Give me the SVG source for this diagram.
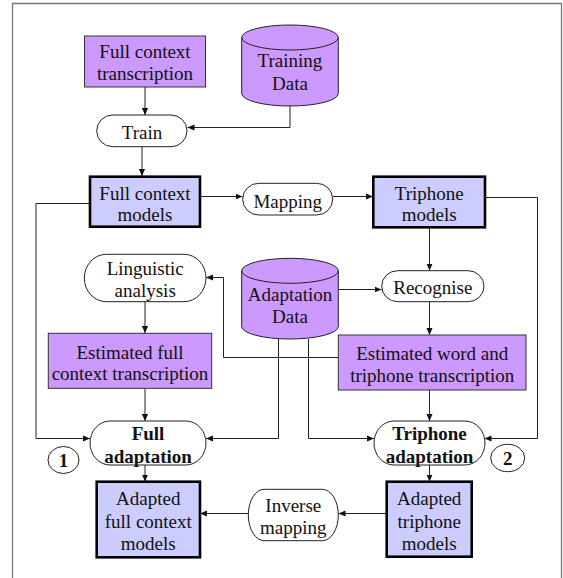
<svg xmlns="http://www.w3.org/2000/svg" width="563" height="578" viewBox="0 0 563 578">
<style>
.purple{fill:#cc99ff;stroke:#333;stroke-width:1}
.blue{fill:#ccccff;stroke:#000;stroke-width:2.6}
.pill{fill:#fff;stroke:#222;stroke-width:1}
.cyl{fill:#cc99ff;stroke:#222;stroke-width:1}
.c{fill:none;stroke:#222;stroke-width:1}
.b{font-weight:bold}
</style>
<defs>
<marker id="ah" viewBox="0 0 8 8" refX="8" refY="4" markerWidth="7" markerHeight="7" markerUnits="userSpaceOnUse" orient="auto">
<path d="M0,0.5 L8,4 L0,7.5 z" fill="#111"/>
</marker>
</defs>
<rect width="563" height="578" fill="#fff"/>
<path d="M12.5,590 V3.5 H561.5 V590" fill="none" stroke="#777" stroke-width="1.3"/>

<g id="connectors">
<path class="c" d="M145,87 V115" marker-end="url(#ah)"/>
<path class="c" d="M290,106 V127.5 H187.5" marker-end="url(#ah)"/>
<path class="c" d="M142,147 V176" marker-end="url(#ah)"/>
<path class="c" d="M200,196.5 H242.5" marker-end="url(#ah)"/>
<path class="c" d="M333,196.5 H373" marker-end="url(#ah)"/>
<path class="c" d="M485,197.5 H537.5 V438.5 H484.5" marker-end="url(#ah)"/>
<path class="c" d="M90,203.5 H36 V438.5 H90" marker-end="url(#ah)"/>
<path class="c" d="M429.5,227.5 V270.5" marker-end="url(#ah)"/>
<path class="c" d="M338.5,289.5 H381.5" marker-end="url(#ah)"/>
<path class="c" d="M338.5,357.5 H223.5 V277.5 H206" marker-end="url(#ah)"/>
<path class="c" d="M145,302 V333" marker-end="url(#ah)"/>
<path class="c" d="M429.5,302 V335" marker-end="url(#ah)"/>
<path class="c" d="M278.5,339 V438.5 H206" marker-end="url(#ah)"/>
<path class="c" d="M308.5,339 V438.5 H374" marker-end="url(#ah)"/>
<path class="c" d="M145,388.5 V421" marker-end="url(#ah)"/>
<path class="c" d="M429.5,390 V421" marker-end="url(#ah)"/>
<path class="c" d="M145,465 V481.5" marker-end="url(#ah)"/>
<path class="c" d="M429.5,465 V481.5" marker-end="url(#ah)"/>
<path class="c" d="M248.5,513.5 H200" marker-end="url(#ah)"/>
<path class="c" d="M386.5,513.5 H338.5" marker-end="url(#ah)"/>
</g>

<g id="nodes" font-family="Liberation Serif, serif" font-size="19" text-anchor="middle" fill="#111">

<g id="full-context-transcription">
<rect class="purple" x="84.5" y="36" width="121" height="51"/>
<text x="145" y="58">Full context</text>
<text x="145" y="80">transcription</text>
</g>

<g id="training-data">
<path class="cyl" d="M241.7,37.5 V93.5 A48.3,12.5 0 0 0 338.3,93.5 V37.5 A48.3,12.5 0 0 0 241.7,37.5 Z"/>
<path class="c" d="M241.7,37.5 A48.3,12.5 0 0 0 338.3,37.5"/>
<text x="290" y="67">Training</text>
<text x="290" y="89.5">Data</text>
</g>

<g id="train">
<rect class="pill" x="96.7" y="115" width="90.3" height="31.7" rx="16" ry="15.8"/>
<text x="142" y="139">Train</text>
</g>

<g id="full-context-models">
<rect class="blue" x="90" y="176.7" width="110" height="50"/>
<text x="145" y="199.5">Full context</text>
<text x="145" y="221">models</text>
</g>

<g id="mapping">
<rect class="pill" x="242.7" y="183.3" width="90" height="31.7" rx="16" ry="15.8"/>
<text x="287.7" y="207.5">Mapping</text>
</g>

<g id="triphone-models">
<rect class="blue" x="373.3" y="176.7" width="111.7" height="50.6"/>
<text x="429.2" y="199.5">Triphone</text>
<text x="429.2" y="221">models</text>
</g>

<g id="linguistic-analysis">
<rect class="pill" x="84.3" y="254.3" width="121.7" height="47.4" rx="22" ry="23.7"/>
<text x="145.2" y="275">Linguistic</text>
<text x="145.2" y="297">analysis</text>
</g>

<g id="adaptation-data">
<path class="cyl" d="M241.7,270.8 V326.5 A48.3,12.5 0 0 0 338.3,326.5 V270.8 A48.3,12.5 0 0 0 241.7,270.8 Z"/>
<path class="c" d="M241.7,270.8 A48.3,12.5 0 0 0 338.3,270.8"/>
<text x="290" y="301">Adaptation</text>
<text x="290" y="323">Data</text>
</g>

<g id="recognise">
<rect class="pill" x="381.7" y="270.7" width="102.3" height="31" rx="16" ry="15.5"/>
<text x="432.8" y="294">Recognise</text>
</g>

<g id="estimated-full-context-transcription">
<rect class="purple" x="48.3" y="333.3" width="163.4" height="55"/>
<text x="130" y="358.5">Estimated full</text>
<text x="130" y="380">context transcription</text>
</g>

<g id="estimated-word-triphone-transcription">
<rect class="purple" x="338.3" y="335" width="187.7" height="55"/>
<text x="432.2" y="359.5">Estimated word and</text>
<text x="432.2" y="381.5">triphone transcription</text>
</g>

<g id="full-adaptation">
<rect class="pill" x="90" y="421" width="116" height="44" rx="20" ry="22"/>
<text class="b" x="148" y="440">Full</text>
<text class="b" x="148" y="463">adaptation</text>
</g>

<g id="label-1">
<ellipse class="pill" cx="63.5" cy="460" rx="15.5" ry="13.5"/>
<text class="b" x="63.5" y="466.5">1</text>
</g>

<g id="triphone-adaptation">
<rect class="pill" x="374" y="421" width="111" height="44" rx="20" ry="22"/>
<text class="b" x="429.5" y="440">Triphone</text>
<text class="b" x="429.5" y="463">adaptation</text>
</g>

<g id="label-2">
<ellipse class="pill" cx="507.7" cy="458" rx="17" ry="13.7"/>
<text class="b" x="507.7" y="464.5">2</text>
</g>

<g id="adapted-full-context-models">
<rect class="blue" x="96.7" y="481.7" width="103.3" height="75.6"/>
<text x="148.3" y="504.5">Adapted</text>
<text x="148.3" y="528">full context</text>
<text x="148.3" y="550">models</text>
</g>

<g id="inverse-mapping">
<rect class="pill" x="248.3" y="489.3" width="90" height="51.4" rx="16" ry="25.7"/>
<text x="293.3" y="512">Inverse</text>
<text x="293.3" y="534">mapping</text>
</g>

<g id="adapted-triphone-models">
<rect class="blue" x="386.7" y="481.7" width="85" height="75"/>
<text x="429.2" y="504.5">Adapted</text>
<text x="429.2" y="528">triphone</text>
<text x="429.2" y="550">models</text>
</g>

</g>
</svg>
